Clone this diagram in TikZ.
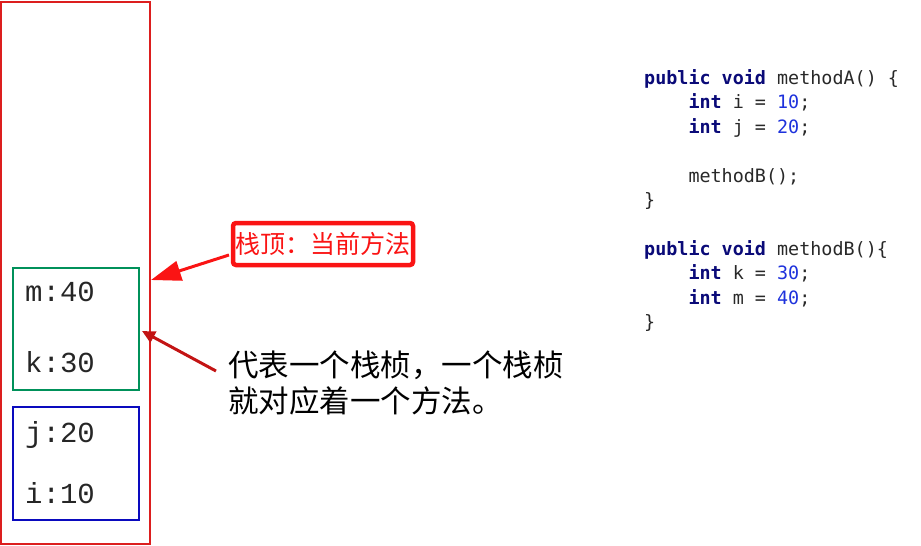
\documentclass[tikz,border=0pt]{standalone}
\usepackage{fontspec}
\setmonofont{Liberation Mono}
\newfontfamily\cjk{Noto Sans CJK SC}
\newfontfamily\codefont{DejaVu Sans Mono}
\usetikzlibrary{arrows.meta}
\definecolor{stackred}{RGB}{220,30,30}
\definecolor{labelred}{RGB}{250,20,20}
\definecolor{darkarrow}{RGB}{195,20,20}
\definecolor{framegreen}{RGB}{0,145,90}
\definecolor{frameblue}{RGB}{10,10,190}
\definecolor{kwcol}{RGB}{10,10,120}
\definecolor{numcol}{RGB}{30,50,220}
\definecolor{codetext}{RGB}{40,40,40}
\tikzset{
  varlabel/.style={anchor=base west, inner sep=0pt, font=\ttfamily\fontsize{29}{34}\selectfont, text=black!85},
  codeline/.style={anchor=base west, inner sep=0pt, font=\codefont\fontsize{18.4}{22}\selectfont, text=codetext},
}
\newcommand{\kw}[1]{\textcolor{kwcol}{\bfseries #1}}
\newcommand{\nm}[1]{\textcolor{numcol}{#1}}
\begin{document}
\begin{tikzpicture}[x=1pt,y=-1pt]
\useasboundingbox (0,0) rectangle (921,546);
% stack
\node[draw=stackred, line width=2pt, inner sep=0pt, minimum width=149pt, minimum height=542pt] (stack) at (75.5,272.5) {};
\node[draw=framegreen, line width=2.5pt, inner sep=0pt, minimum width=126pt, minimum height=122pt] (frameB) at (76,329) {};
\node[draw=frameblue, line width=2.5pt, inner sep=0pt, minimum width=126pt, minimum height=113pt] (frameA) at (76,463.5) {};
\node[varlabel] (m) at (25,301) {m:40};
\node[varlabel] (k) at (25,372) {k:30};
\node[varlabel] (j) at (25,442) {j:20};
\node[varlabel] (i) at (25,503) {i:10};
% label
\node[draw=labelred, line width=4.5pt, rounded corners=3pt, inner sep=0pt, minimum width=180pt, minimum height=42pt, text=labelred, font=\cjk\fontsize{25}{28}\selectfont] (top) at (323,244) {栈顶：当前方法};
\node[anchor=north west, inner sep=0pt, align=left, font=\cjk\fontsize{30.5}{36}\selectfont, text=black] (desc) at (228,351) {代表一个栈桢，一个栈桢\\就对应着一个方法。};
\coordinate (tipA) at (151,280);
\coordinate (tipB) at (142,331);
\coordinate (startA) at (229,255);
\coordinate (startB) at (216,371);
\draw[labelred, line width=3pt, -{Triangle[length=30pt,width=20pt]}] (startA) -- (tipA);
\draw[darkarrow, line width=3pt, -{Triangle[length=13pt,width=12pt]}] (startB) -- (tipB);
% code
\node[codeline] (c1) at (644,84) {\kw{public void} methodA() \{};
\node[codeline] (c2) at (644,108.5) {\phantom{xxxx}\kw{int} i = \nm{10};};
\node[codeline] (c3) at (644,133) {\phantom{xxxx}\kw{int} j = \nm{20};};
\node[codeline] (c4) at (644,182) {\phantom{xxxx}methodB();};
\node[codeline] (c5) at (644,206.5) {\}};
\node[codeline] (c6) at (644,255) {\kw{public void} methodB()\{};
\node[codeline] (c7) at (644,279.5) {\phantom{xxxx}\kw{int} k = \nm{30};};
\node[codeline] (c8) at (644,304) {\phantom{xxxx}\kw{int} m = \nm{40};};
\node[codeline] (c9) at (644,328.5) {\}};
\end{tikzpicture}
\end{document}
